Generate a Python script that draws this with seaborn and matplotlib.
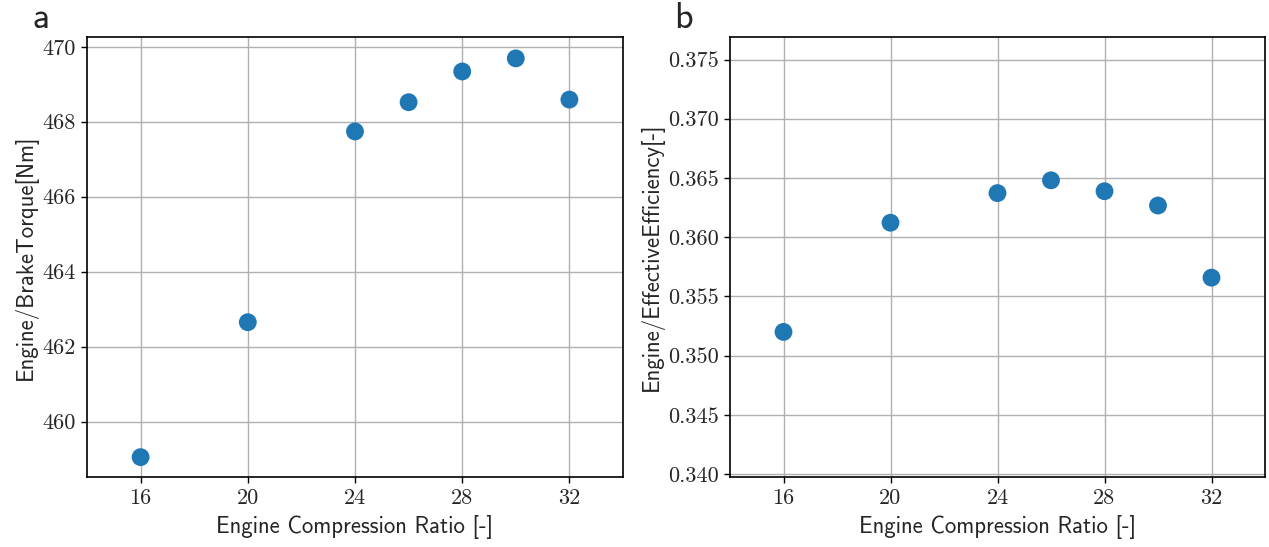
import matplotlib
matplotlib.use("Agg")
import matplotlib.pyplot as plt
import seaborn as sns
import pandas as pd
from matplotlib.ticker import FuncFormatter

# Compression-ratio sweep results
compression_ratio = [16, 20, 24, 26, 28, 30, 32]
brake_torque = [459.05, 462.65, 467.74, 468.52, 469.34, 469.69, 468.59]
effective_efficiency = [0.3520, 0.36122, 0.36372, 0.36480, 0.36388, 0.36267, 0.35658]
x_ticks = [16, 20, 24, 28, 32]

sns.set_style("white")
plt.rcParams["mathtext.fontset"] = "cm"

df = pd.DataFrame({
    "cr": compression_ratio,
    "torque": brake_torque,
    "eff": effective_efficiency,
})

fig = plt.figure(figsize=(12.69, 5.47), dpi=100)
ax_a = fig.add_axes([87 / 1269, 1 - 477 / 547, 536 / 1269, 440 / 547])
ax_b = fig.add_axes([730 / 1269, 1 - 477 / 547, 535 / 1269, 440 / 547])

label_font = dict(family="cmss10", size=16.4)
tick_font = "cmr10"

for ax, col, ylabel in [
    (ax_a, "torque", "Engine/BrakeTorque[Nm]"),
    (ax_b, "eff", "Engine/EffectiveEfficiency[-]"),
]:
    ax.set_axisbelow(True)
    ax.grid(True, color="#b0b0b0", linewidth=1.0)
    sns.scatterplot(data=df, x="cr", y=col, ax=ax, s=165, color="#1f77b4",
                    edgecolor="none", zorder=3)
    ax.set_xlim(14, 34)
    ax.set_xticks(x_ticks)
    ax.set_xlabel("Engine Compression Ratio [-]", labelpad=5, **label_font)
    ax.set_ylabel(ylabel, labelpad=3, **label_font)
    for sp in ax.spines.values():
        sp.set_color("black")
        sp.set_linewidth(1.2)
    ax.tick_params(axis="both", direction="out", length=4, width=1, color="black",
                   labelsize=16, pad=4, left=True, bottom=True)

ax_a.set_ylim(458.52, 470.26)
ax_a.set_yticks([460, 462, 464, 466, 468, 470])
ax_b.set_ylim(0.33975, 0.3769)
ax_b.set_yticks([0.340, 0.345, 0.350, 0.355, 0.360, 0.365, 0.370, 0.375])
ax_b.yaxis.set_major_formatter(FuncFormatter(lambda v, p: f"{v:.3f}"))
for ax in (ax_a, ax_b):
    for lab in ax.get_xticklabels() + ax.get_yticklabels():
        lab.set_fontfamily(tick_font)

fig.text(32 / 1269, 1 - 28 / 547, "a", family="cmss10", size=26)
fig.text(674 / 1269, 1 - 28 / 547, "b", family="cmss10", size=26)

fig.savefig("out.png", dpi=100)
